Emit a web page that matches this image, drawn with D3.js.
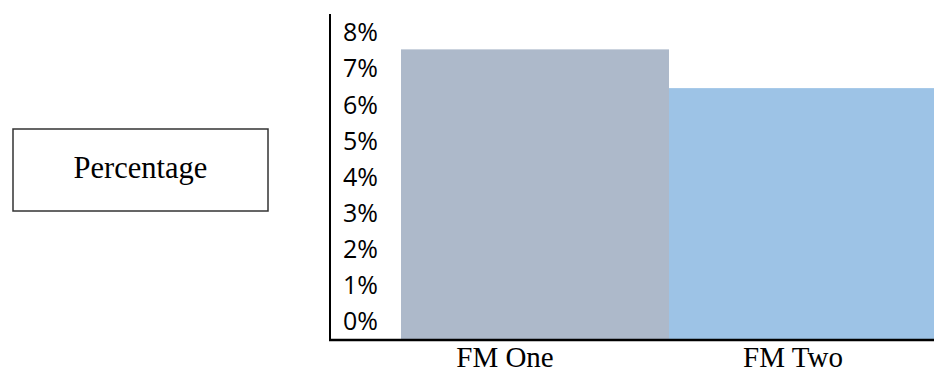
<!DOCTYPE html>
<html>
<head>
<meta charset="utf-8">
<script src="https://cdn.jsdelivr.net/npm/d3@7"></script>
<style>
  html, body { margin: 0; padding: 0; background: #fff; }
  svg { display: block; }
</style>
</head>
<body>
<svg id="chart" width="934" height="373"></svg>
<script>
// Chart data
const categories = ["FM One", "FM Two"];
const values = [7.5, 6.5];            // percent
const tickValues = [0, 1, 2, 3, 4, 5, 6, 7, 8];
const tickLabels = ["0%", "1%", "2%", "3%", "4%", "5%", "6%", "7%", "8%"];
const barColors = ["#ADB9CA", "#9DC3E6"];
const boxTitle = "Percentage";

const svg = d3.select("#chart");

// Scales: bars and their labels
const x = d3.scaleBand().domain(categories).range([401, 937]).padding(0);
const xLabel = d3.scaleBand().domain(categories).range([361, 937]).padding(0);
const y = d3.scaleLinear().domain([0, 8]).range([340, 30]);
// Tick labels sit in evenly spaced rows beside the axis
const yLabel = d3.scaleLinear().domain([0, 8]).range([321, 32]);

// Bars
svg.append("g")
  .selectAll("rect")
  .data(categories)
  .join("rect")
  .attr("x", d => x(d))
  .attr("width", x.bandwidth())
  .attr("y", (d, i) => y(values[i]))
  .attr("height", (d, i) => y(0) - y(values[i]))
  .attr("fill", (d, i) => barColors[i]);

// Y tick labels
const yAxis = d3.axisRight(yLabel)
  .tickValues(tickValues)
  .tickSize(0)
  .tickPadding(13)
  .tickFormat((d, i) => tickLabels[i]);

const gy = svg.append("g").attr("transform", "translate(330,0)").call(yAxis);
gy.select(".domain").remove();
gy.selectAll("text")
  .attr("font-family", "'Open Sans', sans-serif")
  .attr("font-size", 25)
  .attr("fill", "#000")
  .attr("dy", "0.35em");

// Axis lines
svg.append("line")
  .attr("x1", 330).attr("x2", 330)
  .attr("y1", 14).attr("y2", y(0) + 1)
  .attr("stroke", "#000").attr("stroke-width", 2);
svg.append("line")
  .attr("x1", 329).attr("x2", 934)
  .attr("y1", y(0)).attr("y2", y(0))
  .attr("stroke", "#000").attr("stroke-width", 2.5);

// Category labels
svg.append("g")
  .selectAll("text")
  .data(categories)
  .join("text")
  .attr("x", d => xLabel(d) + xLabel.bandwidth() / 2)
  .attr("y", 366.5)
  .attr("text-anchor", "middle")
  .attr("font-family", "'Liberation Serif', 'Times New Roman', serif")
  .attr("font-size", 29)
  .attr("fill", "#000")
  .text(d => d);

// Title box on the left
svg.append("rect")
  .attr("x", 13).attr("y", 129)
  .attr("width", 255).attr("height", 82)
  .attr("fill", "#fff")
  .attr("stroke", "#333").attr("stroke-width", 1.5);
svg.append("text")
  .attr("x", 140.5).attr("y", 178)
  .attr("text-anchor", "middle")
  .attr("font-family", "'Liberation Serif', 'Times New Roman', serif")
  .attr("font-size", 30.5)
  .attr("fill", "#000")
  .text(boxTitle);
</script>
</body>
</html>
